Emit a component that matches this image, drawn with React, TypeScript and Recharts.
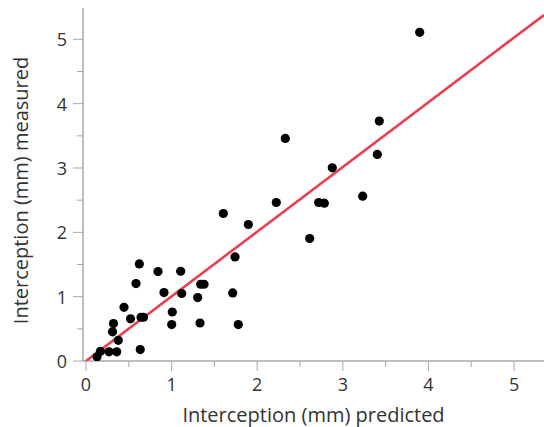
import React from 'react';
import { ScatterChart, Scatter, XAxis, YAxis } from 'recharts';

const predicted = [
  3.898, 2.328, 3.426, 3.403, 2.877, 2.223, 2.718, 2.784, 3.232, 2.613,
  1.604, 1.896, 1.741, 1.714, 1.779, 1.332, 1.305, 1.340, 1.379, 1.106,
  1.118, 0.841, 0.911, 1.008, 1.001, 0.623, 0.584, 0.444, 0.520, 0.643,
  0.672, 0.321, 0.310, 0.377, 0.634, 0.359, 0.269, 0.169, 0.129,
];
const measured = [
  5.109, 3.460, 3.729, 3.211, 3.002, 2.464, 2.464, 2.453, 2.562, 1.904,
  2.293, 2.122, 1.618, 1.058, 0.566, 0.591, 0.986, 1.193, 1.193, 1.395,
  1.049, 1.391, 1.064, 0.762, 0.566, 1.509, 1.204, 0.835, 0.656, 0.680,
  0.680, 0.583, 0.454, 0.322, 0.177, 0.143, 0.143, 0.151, 0.065,
];
const fitX = [0, 5.35];
const fitY = [0, 5.378];
const xTicks = [0, 0.5, 1, 1.5, 2, 2.5, 3, 3.5, 4, 4.5, 5];
const yTicks = [0, 0.5, 1, 1.5, 2, 2.5, 3, 3.5, 4, 4.5, 5];

const points = predicted.map((x, i) => ({ x, y: measured[i] }));
const fitLine = fitX.map((x, i) => ({ x, y: fitY[i] }));

const AXIS = '#a8a8a8';
const TEXT = '#333333';
const FONT = '"Open Sans", sans-serif';

const XTick = (props: any) => {
  const { x, y, payload } = props;
  const v = payload.value;
  const major = Number.isInteger(v);
  return (
    <g>
      <line x1={x} x2={x} y1={y} y2={y + (major ? 10 : 6)} stroke={AXIS} strokeWidth={1} />
      {major && (
        <text x={x} y={y + 30} textAnchor="middle" fill={TEXT} fontSize={18} fontFamily={FONT}>
          {v}
        </text>
      )}
    </g>
  );
};

const YTick = (props: any) => {
  const { x, y, payload } = props;
  const v = payload.value;
  const major = Number.isInteger(v);
  return (
    <g>
      <line x1={x - (major ? 10 : 6)} x2={x} y1={y} y2={y} stroke={AXIS} strokeWidth={1} />
      {major && (
        <text x={x - 16} y={y + 7} textAnchor="end" fill={TEXT} fontSize={18} fontFamily={FONT}>
          {v}
        </text>
      )}
    </g>
  );
};

const Dot = (props: any) => <circle cx={props.cx} cy={props.cy} r={4.6} fill="#000" />;

export default function App() {
  return (
    <div style={{ position: 'absolute', left: 0, top: 0, width: 544, height: 427, overflow: 'hidden', background: '#fff' }}>
      <ScatterChart width={544} height={427} margin={{ top: 8, right: 0, bottom: 0, left: 0 }}>
        <XAxis
          xAxisId="top"
          orientation="top"
          type="number"
          dataKey="x"
          domain={[-0.035, 5.35]}
          allowDataOverflow
          height={0}
          tick={false}
          tickLine={false}
          axisLine={{ stroke: AXIS, strokeWidth: 1.5 }}
        />
        <XAxis
          type="number"
          dataKey="x"
          domain={[-0.035, 5.35]}
          allowDataOverflow
          ticks={xTicks}
          interval={0}
          height={66}
          tickSize={0}
          tickMargin={0}
          tickLine={false}
          tick={<XTick />}
          axisLine={{ stroke: AXIS, strokeWidth: 1.5 }}
          label={{ value: 'Interception (mm) predicted', position: 'insideBottom', offset: 5, fill: TEXT, fontSize: 20, fontFamily: FONT }}
        />
        <YAxis
          type="number"
          dataKey="y"
          domain={[0, 5.487]}
          allowDataOverflow
          ticks={yTicks}
          interval={0}
          width={83}
          tickSize={0}
          tickMargin={0}
          tickLine={false}
          tick={<YTick />}
          axisLine={{ stroke: AXIS, strokeWidth: 1.5 }}
          label={{ value: 'Interception (mm) measured', angle: -90, position: 'center', dx: -21, dy: 6, fill: TEXT, fontSize: 20, fontFamily: FONT }}
        />
        <Scatter
          data={fitLine}
          line={{ stroke: '#e8404f', strokeWidth: 2.6 }}
          shape={() => null}
          isAnimationActive={false}
          legendType="none"
        />
        <Scatter data={points} shape={<Dot />} isAnimationActive={false} />
      </ScatterChart>
    </div>
  );
}
